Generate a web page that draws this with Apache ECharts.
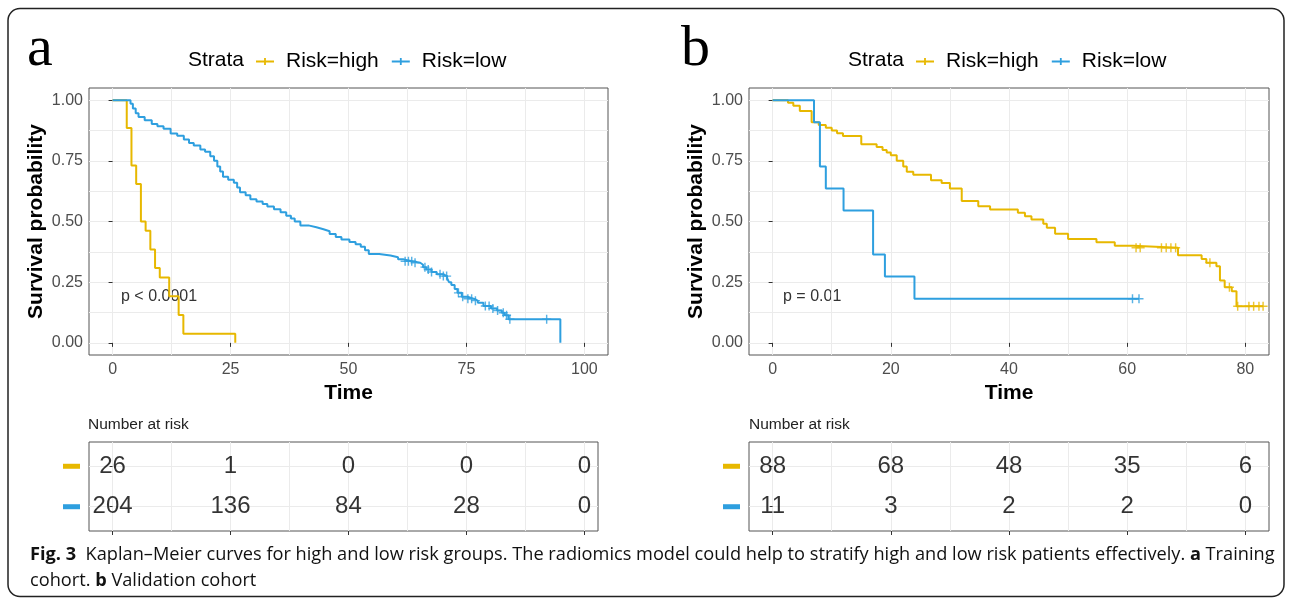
<!DOCTYPE html>
<html>
<head>
<meta charset="utf-8">
<script src="https://cdn.jsdelivr.net/npm/echarts@6/dist/echarts.min.js"></script>
<style>
  html, body { margin: 0; padding: 0; background: #fff; }
  #km { width: 1290px; height: 601px; }
</style>
</head>
<body>
<div id="km"></div>
<script>
// ---- data ----
// a: training cohort
const trainHighTime = [0, 3, 4, 5, 6, 7, 8, 9, 10, 12, 14, 15, 26];
const trainHighSurv = [1, 0.885, 0.731, 0.654, 0.5, 0.462, 0.385, 0.308, 0.269, 0.192, 0.115, 0.038, 0];
const trainHighCens = [];

const trainLowTime = [0, 3.8, 4.3, 4.9, 5.5, 6.8, 8.3, 9.5, 10.8, 12.3, 13.7, 15.1, 16.2, 17.2, 18.6, 19.6, 20.7, 21.5, 22.2, 22.8,
  23.4, 24.5, 25.7, 26.4, 27.0, 28.2, 29.2, 30.5, 31.8, 32.8, 34.2, 35.6, 36.8, 37.8, 38.6, 39.8, 41.5, 43.2, 44.7, 46.0,
  47.3, 48.5, 50.2, 51.5, 52.6, 53.5, 54.3, 56.5, 58.9, 60.5, 61.7, 63.5, 65.2, 65.8, 66.5, 67.6, 68.7, 70.0, 70.9, 71.3,
  71.8, 72.5, 73.1, 74.0, 75.2, 76.5, 77.4, 78.6, 80.2, 81.5, 82.5, 83.1, 83.9, 94.9];
const trainLowSurv = [1, 0.985, 0.966, 0.946, 0.931, 0.917, 0.902, 0.892, 0.882, 0.863, 0.853, 0.838, 0.823, 0.813, 0.797, 0.787, 0.769, 0.750, 0.727, 0.706,
  0.684, 0.672, 0.660, 0.640, 0.620, 0.608, 0.592, 0.582, 0.572, 0.562, 0.550, 0.538, 0.524, 0.512, 0.500, 0.484, 0.476, 0.468, 0.460, 0.448,
  0.436, 0.426, 0.416, 0.406, 0.396, 0.382, 0.366, 0.360, 0.353, 0.344, 0.336, 0.330, 0.322, 0.312, 0.302, 0.292, 0.283, 0.275, 0.266, 0.250,
  0.238, 0.222, 0.206, 0.190, 0.182, 0.174, 0.165, 0.152, 0.142, 0.133, 0.124, 0.114, 0.097, 0];
const trainLowCens = [62.0, 62.7, 63.4, 64.1, 66.2, 66.9, 67.6, 69.4, 70.1, 70.8, 73.3, 74.2, 75.3, 76.1, 76.9,
  79.0, 79.8, 80.6, 81.6, 82.8, 83.5, 84.2, 92.0];

// b: validation cohort
const validHighTime = [0, 2.6, 3.5, 4.6, 6.6, 7.8, 9.0, 10.0, 10.9, 11.9, 15.0, 17.6, 18.6, 19.3, 20.0, 21.0, 22.1, 22.7, 23.8, 26.8,
  28.6, 30.0, 32.0, 34.8, 36.8, 41.5, 42.7, 43.8, 45.8, 46.4, 47.8, 50.0, 54.8, 57.9, 61.0, 68.6, 72.6, 73.4, 75.1, 75.7,
  76.5, 77.7, 78.5, 83.0];
const validHighSurv = [1, 0.989, 0.977, 0.955, 0.909, 0.898, 0.886, 0.875, 0.864, 0.852, 0.818, 0.807, 0.795, 0.784, 0.773, 0.750, 0.727, 0.705, 0.693, 0.670,
  0.659, 0.636, 0.584, 0.563, 0.549, 0.536, 0.522, 0.508, 0.491, 0.474, 0.450, 0.428, 0.414, 0.400, 0.392, 0.361, 0.345, 0.330, 0.316, 0.257,
  0.229, 0.213, 0.151, 0.151];
const validHighCens = [61.5, 62.2, 65.8, 66.6, 67.4, 68.2, 74.0, 77.3, 78.7, 80.6, 81.4, 82.3, 83.0];

const validLowTime = [0, 7, 8, 9, 12, 17, 19, 24, 62.0];
const validLowSurv = [1, 0.909, 0.727, 0.636, 0.545, 0.364, 0.273, 0.182, 0.182];
const validLowCens = [60.9, 62.0];

// number at risk tables
const riskTimesA = [0, 25, 50, 75, 100];
const riskHighA = [26, 1, 0, 0, 0];
const riskLowA = [204, 136, 84, 28, 0];
const riskTimesB = [0, 20, 40, 60, 80];
const riskHighB = [88, 68, 48, 35, 6];
const riskLowB = [11, 3, 2, 2, 0];

const xTicksA = [0, 25, 50, 75, 100];
const xTicksB = [0, 20, 40, 60, 80];
const yTicks = [0, 0.25, 0.5, 0.75, 1];

// ---- styling ----
const HIGH = '#E7B800';
const LOW = '#2E9FDF';
const FONT = '"Liberation Sans", Arial, sans-serif';
const GRIDC = '#ebebeb';
const BORDER = '#555';
const PLUS = 'path://M0,4.2 L10,4.2 L10,5.8 L0,5.8 Z M4.2,0 L5.8,0 L5.8,10 L4.2,10 Z';
const KEY = 'path://M0,4 L20,4 L20,6 L0,6 Z M9,1 L11,1 L11,9 L9,9 Z';

function withMinor(ticks) {
  const out = [];
  for (let i = 0; i < ticks.length; i++) {
    out.push(ticks[i]);
    if (i < ticks.length - 1) out.push((ticks[i] + ticks[i + 1]) / 2);
  }
  return out;
}
function pairs(t, s) { return t.map((v, i) => [v, s[i]]); }
function survAt(t, s, x) {
  let v = s[0];
  for (let i = 0; i < t.length; i++) if (t[i] <= x) v = s[i];
  return v;
}
function censPts(t, s, c) { return c.map(x => [x, survAt(t, s, x)]); }
function riskPts(times, high, low) {
  return times.map((x, i) => [x, 2, high[i]]).concat(times.map((x, i) => [x, 1, low[i]]));
}

const plotA = { left: 89, top: 88, width: 519, height: 267 };
const tableA = { left: 89, top: 442, width: 509, height: 89 };
const plotB = { left: 749, top: 88, width: 520, height: 267 };
const tableB = { left: 749, top: 442, width: 520, height: 89 };

const grids = [];
[plotA, tableA, plotB, tableB].forEach(g => {
  grids.push(Object.assign({ show: true, borderColor: BORDER, borderWidth: 1, backgroundColor: '#fff' }, g));
  grids.push(Object.assign({ show: false }, g));
});

// back axes draw the grid lines, front axes draw ticks, labels and names
function backX(gi, min, max, ticks) {
  return {
    type: 'value', gridIndex: gi, min: min, max: max,
    axisLine: { show: false }, axisLabel: { show: false },
    axisTick: { show: false, customValues: withMinor(ticks) },
    splitLine: { show: true, lineStyle: { color: GRIDC, width: 1 } }
  };
}
function frontX(gi, min, max, ticks, withLabels) {
  return {
    type: 'value', gridIndex: gi, min: min, max: max,
    axisLine: { show: false },
    axisTick: { show: true, length: 4, customValues: ticks, lineStyle: { color: '#333' } },
    axisLabel: { show: withLabels, customValues: ticks, margin: 7, fontSize: 16, color: '#4d4d4d', fontFamily: FONT },
    splitLine: { show: false },
    name: withLabels ? 'Time' : '', nameLocation: 'middle', nameGap: 28,
    nameTextStyle: { fontSize: 21, fontWeight: 'bold', color: '#000', fontFamily: FONT }
  };
}
function backY(gi, min, max, vals) {
  return {
    type: 'value', gridIndex: gi, min: min, max: max,
    axisLine: { show: false }, axisLabel: { show: false },
    axisTick: { show: false, customValues: vals },
    splitLine: { show: true, lineStyle: { color: GRIDC, width: 1 } }
  };
}
function frontY(gi) {
  return {
    type: 'value', gridIndex: gi, min: -0.05, max: 1.05,
    axisLine: { show: false },
    axisTick: { show: true, length: 4, customValues: yTicks, lineStyle: { color: '#333' } },
    axisLabel: { customValues: yTicks, margin: 6, fontSize: 16, color: '#4d4d4d', fontFamily: FONT,
      formatter: v => v.toFixed(2) },
    splitLine: { show: false },
    name: 'Survival probability', nameLocation: 'middle', nameGap: 42,
    nameTextStyle: { fontSize: 21, fontWeight: 'bold', color: '#000', fontFamily: FONT }
  };
}
function tableY(gi) {
  return {
    type: 'value', gridIndex: gi, min: 0.4, max: 2.6,
    axisLine: { show: false },
    axisTick: { show: true, length: 3, customValues: [1, 2], lineStyle: { color: '#333' } },
    axisLabel: {
      customValues: [1, 2], margin: 9,
      formatter: v => (v === 2 ? '{h| }' : '{l| }'),
      rich: {
        h: { backgroundColor: HIGH, width: 17, height: 5 },
        l: { backgroundColor: LOW, width: 17, height: 5 }
      }
    },
    splitLine: { show: false }
  };
}

const yTicksAll = withMinor(yTicks);
const xAxes = [
  backX(0, -5, 105, xTicksA), frontX(1, -5, 105, xTicksA, true),
  backX(2, -5, 102.9, xTicksA), frontX(3, -5, 102.9, xTicksA, false),
  backX(4, -4, 84, xTicksB), frontX(5, -4, 84, xTicksB, true),
  backX(6, -4, 84, xTicksB), frontX(7, -4, 84, xTicksB, false)
];
const yAxes = [
  backY(0, -0.05, 1.05, yTicksAll), frontY(1),
  backY(2, 0.4, 2.6, [1, 2]), tableY(3),
  backY(4, -0.05, 1.05, yTicksAll), frontY(5),
  backY(6, 0.4, 2.6, [1, 2]), tableY(7)
];

function kmLine(name, color, t, s, axis) {
  return {
    name: name, type: 'line', step: 'end', xAxisIndex: axis, yAxisIndex: axis,
    data: pairs(t, s), showSymbol: false, symbol: 'none',
    lineStyle: { color: color, width: 2 }, itemStyle: { color: color }, z: 3
  };
}
function censor(color, t, s, c, axis) {
  return {
    type: 'scatter', xAxisIndex: axis, yAxisIndex: axis,
    data: censPts(t, s, c), symbol: PLUS, symbolSize: 9,
    itemStyle: { color: color }, z: 4
  };
}
function riskSeries(times, high, low, axis) {
  return {
    type: 'scatter', xAxisIndex: axis, yAxisIndex: axis,
    data: riskPts(times, high, low), symbolSize: 1,
    itemStyle: { color: 'rgba(0,0,0,0)' },
    label: { show: true, position: 'inside', formatter: p => String(p.value[2]),
      fontSize: 24, color: '#000', fontFamily: FONT }
  };
}

function legendAt(left) {
  return {
    left: left, top: 46, orient: 'horizontal', selectedMode: false,
    data: ['Risk=high', 'Risk=low'], icon: KEY, itemWidth: 18, itemHeight: 10, itemGap: 13,
    textStyle: { fontSize: 21, color: '#000', fontFamily: FONT, padding: [0, 0, 0, 7] }
  };
}

const CAP = '"Open Sans", sans-serif';
const chart = echarts.init(document.getElementById('km'));
chart.setOption({
  animation: false,
  backgroundColor: '#fff',
  grid: grids,
  xAxis: xAxes,
  yAxis: yAxes,
  legend: [legendAt(251), legendAt(911)],
  series: [
    kmLine('Risk=high', HIGH, trainHighTime, trainHighSurv, 1),
    kmLine('Risk=low', LOW, trainLowTime, trainLowSurv, 1),
    censor(HIGH, trainHighTime, trainHighSurv, trainHighCens, 1),
    censor(LOW, trainLowTime, trainLowSurv, trainLowCens, 1),
    kmLine('Risk=high', HIGH, validHighTime, validHighSurv, 5),
    kmLine('Risk=low', LOW, validLowTime, validLowSurv, 5),
    censor(HIGH, validHighTime, validHighSurv, validHighCens, 5),
    censor(LOW, validLowTime, validLowSurv, validLowCens, 5),
    riskSeries(riskTimesA, riskHighA, riskLowA, 3),
    riskSeries(riskTimesB, riskHighB, riskLowB, 7)
  ],
  graphic: [
    { type: 'rect', shape: { x: 8, y: 8.5, width: 1276, height: 588, r: 12 },
      style: { fill: 'none', stroke: '#222', lineWidth: 1.5 }, z: 100 },
    { type: 'text', x: 27, y: 50, style: { text: 'a', font: '58px "Liberation Serif", serif', fill: '#000', verticalAlign: 'middle' } },
    { type: 'text', x: 681, y: 50, style: { text: 'b', font: '58px "Liberation Serif", serif', fill: '#000', verticalAlign: 'middle' } },
    { type: 'text', x: 188, y: 60, style: { text: 'Strata', font: '21px ' + FONT, fill: '#000', verticalAlign: 'middle' } },
    { type: 'text', x: 848, y: 60, style: { text: 'Strata', font: '21px ' + FONT, fill: '#000', verticalAlign: 'middle' } },
    { type: 'text', x: 121, y: 297, style: { text: 'p < 0.0001', font: '16px ' + FONT, fill: '#333', verticalAlign: 'middle' } },
    { type: 'text', x: 783, y: 297, style: { text: 'p = 0.01', font: '16px ' + FONT, fill: '#333', verticalAlign: 'middle' } },
    { type: 'text', x: 88, y: 425, style: { text: 'Number at risk', font: '15.5px ' + FONT, fill: '#222', verticalAlign: 'middle' } },
    { type: 'text', x: 749, y: 425, style: { text: 'Number at risk', font: '15.5px ' + FONT, fill: '#222', verticalAlign: 'middle' } },
    { type: 'text', x: 30, y: 555, style: {
        text: '{b|Fig. 3}  Kaplan–Meier curves for high and low risk groups. The radiomics model could help to stratify high and low risk patients effectively. {b|a} Training',
        font: '18.2px ' + CAP, fill: '#111', verticalAlign: 'middle',
        rich: { b: { fontWeight: 'bold', fontSize: 18.2, fontFamily: CAP, fill: '#111' } } } },
    { type: 'text', x: 30, y: 581, style: {
        text: 'cohort. {b|b} Validation cohort',
        font: '18.2px ' + CAP, fill: '#111', verticalAlign: 'middle',
        rich: { b: { fontWeight: 'bold', fontSize: 18.2, fontFamily: CAP, fill: '#111' } } } }
  ]
});
window.addEventListener('resize', function () { chart.resize(); });
</script>
</body>
</html>
